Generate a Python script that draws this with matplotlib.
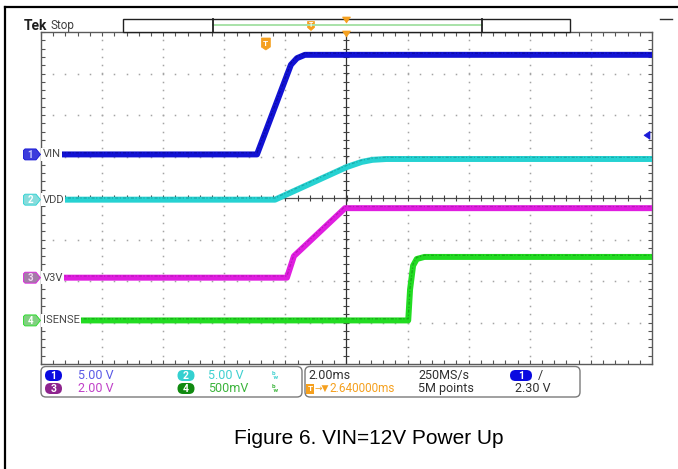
import matplotlib
matplotlib.use("Agg")
import matplotlib.pyplot as plt
import numpy as np
from matplotlib.patches import FancyBboxPatch, Polygon, Rectangle
from matplotlib.transforms import Affine2D, blended_transform_factory

W, H, DPI = 678, 469, 100

# ---- acquisition settings -------------------------------------------------
TIME_PER_DIV = 2.0          # ms / div
H_DIVS, V_DIVS = 10, 8
TRIG_POS_MS = -2.64
TRIG_LEVEL_V = 2.30

CH_NAMES = ["VIN", "VDD", "V3V", "ISENSE"]
CH_SCALE = [5.0, 5.0, 2.0, 0.5]            # volts per division
CH_SCALE_TXT = ["5.00 V", "5.00 V", "2.00 V", "500mV"]
CH_OFFSET = [1.05, -0.04, -1.92, -2.95]    # ground position, divisions

# ---- captured waveforms (time in ms, value in V) --------------------------
VIN_T = [-10.0, -2.93, -1.82, -1.62, -1.36, 10.0]
VIN_V = [0.0, 0.0, 10.8, 11.6, 12.0, 12.0]
VDD_T = [-10.0, -2.34, 0.0, 0.5, 0.85, 1.3, 10.0]
VDD_V = [0.0, 0.0, 3.92, 4.55, 4.8, 4.9, 4.9]
V3V_T = [-10.0, -1.95, -1.72, -0.05, 10.0]
V3V_V = [0.0, 0.0, 1.04, 3.35, 3.35]
ISENSE_T = [-10.0, 2.02, 2.08, 2.18, 2.30, 2.55, 10.0]
ISENSE_V = [0.0, 0.0, 0.37, 0.66, 0.74, 0.765, 0.765]

WAVES = [(VIN_T, VIN_V), (VDD_T, VDD_V), (V3V_T, V3V_V), (ISENSE_T, ISENSE_V)]

TRACE_COL = ["#1212d4", "#26d2d2", "#e01ee0", "#22dc22"]
TRACE_DARK = ["#00006a", "#0c7878", "#8a0c8a", "#0c6a0c"]
MARK_FACE = ["#3c3cdc", "#86dcdc", "#a47ca8", "#80d080"]
MARK_TXT = ["#c8c8ff", "#ffffff", "#f0d8f0", "#ffffff"]
OVAL_COL = ["#0a0ae0", "#34d0d0", "#8e248e", "#108a10"]
SCALE_COL = ["#5a5ae6", "#3fd0d0", "#c040c8", "#3cb43c"]
ORANGE = "#f5a01e"

SCOPE_FONT = ["Roboto", "DejaVu Sans"]

fig = plt.figure(figsize=(W / DPI, H / DPI), dpi=DPI)
fig.patch.set_facecolor("white")
# pixel transform: x right, y down, origin at top-left of the canvas
PX = Affine2D().scale(1, -1).translate(0, H)

# graticule area
L, R, T, B = 41, 652, 32, 364
ax = fig.add_axes([L / W, 1 - B / H, (R - L) / W, (B - T) / H])
half_t = TIME_PER_DIV * H_DIVS / 2
ax.set_xlim(-half_t, half_t)
ax.set_ylim(-V_DIVS / 2, V_DIVS / 2)
ax.set_facecolor("white")

# border ticks every 1/5 division
ax.set_xticks(np.arange(-half_t, half_t + 1e-9, TIME_PER_DIV))
ax.set_xticks(np.arange(-half_t, half_t + 1e-9, TIME_PER_DIV / 5), minor=True)
ax.set_yticks(np.arange(-V_DIVS / 2, V_DIVS / 2 + 1e-9, 1))
ax.set_yticks(np.arange(-V_DIVS / 2, V_DIVS / 2 + 1e-9, 0.2), minor=True)
ax.tick_params(which="both", direction="in", length=3.2, width=0.8,
               color="#555555", top=True, right=True,
               labelbottom=False, labelleft=False)
for s in ax.spines.values():
    s.set_color("#5a5a5a")
    s.set_linewidth(1.0)

# dotted grid
ydots = np.arange(-V_DIVS / 2, V_DIVS / 2 + 1e-9, 0.2)[1:-1]
xdots = np.arange(-half_t, half_t + 1e-9, TIME_PER_DIV / 5)[1:-1]
for gx in np.arange(-half_t + TIME_PER_DIV, half_t, TIME_PER_DIV):
    if abs(gx) < 1e-9:
        continue
    ax.plot(np.full_like(ydots, gx), ydots, ls="none", marker="s", ms=1.1,
            mew=0, color="#a4a4a4", zorder=1)
for gy in range(-V_DIVS // 2 + 1, V_DIVS // 2):
    if gy == 0:
        continue
    ax.plot(xdots, np.full_like(xdots, gy), ls="none", marker="s", ms=1.1,
            mew=0, color="#a4a4a4", zorder=1)

# centre cross with fine ticks
ax.axvline(0, color="#303030", lw=0.9, zorder=2)
ax.axhline(0, color="#505050", lw=0.9, zorder=2)
ax.plot(np.zeros_like(ydots), ydots, ls="none", marker="_", ms=4, mew=0.8,
        color="#404040", zorder=2)
ax.plot(xdots, np.zeros_like(xdots), ls="none", marker="|", ms=4, mew=0.8,
        color="#404040", zorder=2)


def to_div(values, ch):
    return np.asarray(values) / CH_SCALE[ch] + CH_OFFSET[ch]


# traces: solid band with a faint darker fringe along the top edge
for ch, (tt, vv) in enumerate(WAVES):
    yd = to_div(vv, ch)
    ax.plot(tt, yd, color=TRACE_COL[ch], lw=4.3, solid_capstyle="butt",
            solid_joinstyle="round", zorder=5)
    ax.plot(tt, yd + 0.04, color=TRACE_DARK[ch], lw=0.9, alpha=0.45,
            ls=(0, (1.0, 1.6, 2.5, 1.2)), zorder=6)

# channel labels (opaque, hiding the trace underneath)
lab_tr = blended_transform_factory(ax.transAxes, ax.transData)
for ch, name in enumerate(CH_NAMES):
    ax.text(0.0025, CH_OFFSET[ch], name, transform=lab_tr, ha="left",
            va="center", fontsize=8, family=SCOPE_FONT, color="#4a4a4a",
            zorder=10, bbox=dict(boxstyle="square,pad=0.12", fc="white",
                                 ec="none"))


def div_to_px(d):
    return (T + B) / 2 - d * (B - T) / V_DIVS


def t_to_px(t):
    return (L + R) / 2 + t / TIME_PER_DIV * (R - L) / H_DIVS


# ground markers on the left edge
for ch in range(4):
    yc = div_to_px(CH_OFFSET[ch])
    pts = [(25, yc - 5.5), (36, yc - 5.5), (40.5, yc), (36, yc + 5.5),
           (25, yc + 5.5), (23.5, yc + 4), (23.5, yc - 4)]
    fig.patches.append(Polygon(pts, closed=True, transform=PX, fc=MARK_FACE[ch],
                               ec=TRACE_COL[ch], lw=0.6))
    fig.text(30.5, yc + 0.5, str(ch + 1), transform=PX, ha="center", va="center",
             fontsize=7, family=SCOPE_FONT, color=MARK_TXT[ch], weight="bold")

# trigger level marker on the right edge (channel 1)
ty = div_to_px(CH_OFFSET[0] + TRIG_LEVEL_V / CH_SCALE[0])
fig.patches.append(Polygon([(644, ty), (650, ty - 4), (650, ty + 4)], closed=True,
                           transform=PX, fc="#1a1ad8", ec="#1a1ad8", lw=0.5))


def pennant(x, y, w=9, h=12, fs=6):
    fig.patches.append(Polygon([(x - w / 2, y - h / 2), (x + w / 2, y - h / 2),
                                (x + w / 2, y + h / 2 - 3), (x, y + h / 2),
                                (x - w / 2, y + h / 2 - 3)], closed=True,
                               transform=PX, fc=ORANGE, ec=ORANGE, lw=0.5))
    fig.text(x, y - 1, "T", transform=PX, ha="center", va="center",
             fontsize=fs, family=SCOPE_FONT, color="white", weight="bold")


# trigger position pennant
pennant(t_to_px(TRIG_POS_MS), 44)

# record overview bar
fig.patches.append(Rectangle((123, 19), 447, 13, transform=PX, fc="white",
                             ec="#202020", lw=1.0))
fig.lines.append(plt.Line2D([213, 482], [24.5, 24.5], transform=PX,
                            color="#a8e2a8", lw=1.4))
for bx in (213, 482):
    fig.lines.append(plt.Line2D([bx, bx], [19, 32], transform=PX,
                                color="#202020", lw=1.3))
pennant(311, 26, w=7, h=9, fs=5)
for yy in (20, 34):
    fig.patches.append(Polygon([(t_to_px(0) - 4, yy - 3), (t_to_px(0) + 4, yy - 3),
                                (t_to_px(0), yy + 3)], closed=True, transform=PX,
                               fc=ORANGE, ec=ORANGE, lw=0.5))
fig.lines.append(plt.Line2D([660, 672], [19, 19], transform=PX,
                            color="#303030", lw=1.0))

# header
fig.text(24, 25.5, "Tek", transform=PX, ha="left", va="center", fontsize=10,
         family=SCOPE_FONT, weight="bold", color="#202020")
fig.text(50.5, 25.5, "Stop", transform=PX, ha="left", va="center", fontsize=8.5,
         family=SCOPE_FONT, color="#404040")

# readout panels
for x0, x1 in ((41, 302), (305, 580)):
    fig.patches.append(FancyBboxPatch((x0, 366.5), x1 - x0, 30.5,
                                      boxstyle="round,pad=0,rounding_size=5",
                                      transform=PX, fc="white", ec="#7a7a7a",
                                      lw=1.0))

ROWS = [375.5, 388.5]
for ch in range(4):
    row = ROWS[0] if ch in (0, 1) else ROWS[1]
    ox = 53.5 if ch in (0, 2) else 186
    tx = 78 if ch in (0, 2) else 208
    fig.patches.append(FancyBboxPatch((ox - 8.5, row - 5.5), 17, 11,
                                      boxstyle="round,pad=0,rounding_size=5.5",
                                      transform=PX, fc=OVAL_COL[ch], ec="none"))
    fig.text(ox, row + 0.3, str(ch + 1), transform=PX, ha="center", va="center",
             fontsize=7.5, family=SCOPE_FONT, weight="bold", color="white")
    fig.text(tx, row, CH_SCALE_TXT[ch], transform=PX, ha="left", va="center",
             fontsize=9, family=SCOPE_FONT, color=SCALE_COL[ch])
    if ch in (1, 3):
        # bandwidth-limit indicator
        fig.text(272, row, "b\n w", transform=PX, ha="left", va="center",
                 fontsize=4.5, linespacing=0.8, family=SCOPE_FONT,
                 weight="bold", color=SCALE_COL[ch])

fig.text(308, ROWS[0], f"{TIME_PER_DIV:.2f}ms", transform=PX, ha="left",
         va="center", fontsize=9, family=SCOPE_FONT, color="#303030")
fig.text(418, ROWS[0], "250MS/s", transform=PX, ha="left", va="center",
         fontsize=9, family=SCOPE_FONT, color="#303030")
fig.text(418, ROWS[1], "5M points", transform=PX, ha="left", va="center",
         fontsize=9, family=SCOPE_FONT, color="#303030")
fig.patches.append(FancyBboxPatch((510, ROWS[0] - 5.5), 22, 11,
                                  boxstyle="round,pad=0,rounding_size=5.5",
                                  transform=PX, fc=OVAL_COL[0], ec="none"))
fig.text(521, ROWS[0] + 0.3, "1", transform=PX, ha="center", va="center",
         fontsize=7.5, family=SCOPE_FONT, weight="bold", color="white")
fig.text(538, ROWS[0], "/", transform=PX, ha="left", va="center",
         fontsize=9, family=SCOPE_FONT, color="#303030")
fig.text(515, ROWS[1], f"{TRIG_LEVEL_V:.2f} V", transform=PX, ha="left",
         va="center", fontsize=9, family=SCOPE_FONT, color="#303030")
fig.patches.append(Rectangle((306, ROWS[1] - 5), 8, 10, transform=PX,
                             fc=ORANGE, ec="none"))
fig.text(310, ROWS[1], "T", transform=PX, ha="center", va="center",
         fontsize=6, family=SCOPE_FONT, weight="bold", color="white")
fig.text(314.5, ROWS[1], "\u2192\u25bc", transform=PX, ha="left", va="center",
         fontsize=6.5, family=["DejaVu Sans"], color=ORANGE)
fig.text(329.5, ROWS[1], f"{abs(TRIG_POS_MS):.6f}ms", transform=PX,
         ha="left", va="center", fontsize=8.5, family=SCOPE_FONT, color=ORANGE)

# document frame and caption
fig.lines.append(plt.Line2D([5, 5], [7, H], transform=PX, color="black", lw=1.6))
fig.lines.append(plt.Line2D([5, W], [7, 7], transform=PX, color="black", lw=1.6))
fig.text(369, 438, "Figure 6. VIN=12V Power Up", transform=PX, ha="center",
         va="center", fontsize=15, family=["Liberation Sans", "DejaVu Sans"],
         color="black")

fig.savefig("out.png", dpi=DPI, facecolor="white")
